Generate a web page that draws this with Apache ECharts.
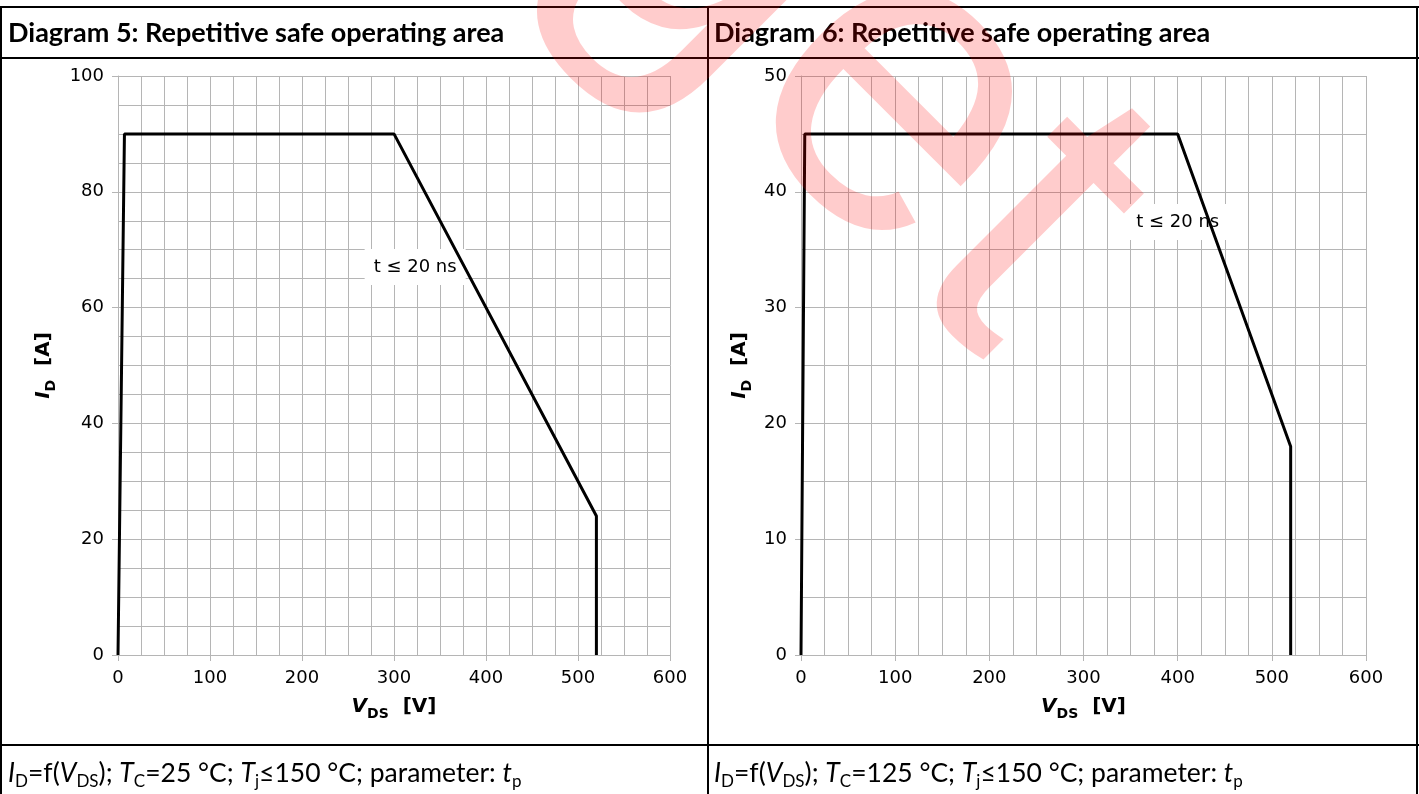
<!DOCTYPE html>
<html>
<head>
<meta charset="utf-8">
<script src="https://cdn.jsdelivr.net/npm/echarts@6/dist/echarts.min.js"></script>
<style>
  html, body { margin: 0; padding: 0; background: #fff; }
  #chart { width: 1419px; height: 794px; }
</style>
</head>
<body>
<div id="chart"></div>
<script>
// diagram 5 (Tc = 25 °C) and diagram 6 (Tc = 125 °C)
const vdsLeft = [0, 7, 300, 520, 520]
const idLeft = [0, 90, 90, 24, 0]
const vdsRight = [0, 4, 400, 520, 520]
const idRight = [0, 45, 45, 18, 0]

const xRange = [0, 600]
const yRangeLeft = [0, 100]
const yRangeRight = [0, 50]

const noteText = 't ≤ 20 ns'
const noteLeft = [323, 67]
const noteRight = [400, 37.4]

const titles = ['Diagram 5: Repetitive safe operating area', 'Diagram 6: Repetitive safe operating area']
const footers = [
    '{i|I}{s|D}{n|=f(}{i|V}{s|DS}{n|); }{i|T}{s|C}{n|=25 °C; }{i|T}{s|j}{n|≤150 °C; parameter: }{i|t}{s|p}',
    '{i|I}{s|D}{n|=f(}{i|V}{s|DS}{n|); }{i|T}{s|C}{n|=125 °C; }{i|T}{s|j}{n|≤150 °C; parameter: }{i|t}{s|p}'
]

const gridColor = '#b5b5b5'
const font = 'DejaVu Sans'
const headFont = 'Lato'

const nameRich = {
    i: { fontFamily: font, fontSize: 20, fontWeight: 'bold', fontStyle: 'italic', color: '#000', lineHeight: 28 },
    s: { fontFamily: font, fontSize: 14, fontWeight: 'bold', color: '#000', verticalAlign: 'bottom', lineHeight: 17 },
    b: { fontFamily: font, fontSize: 20, fontWeight: 'bold', color: '#000', lineHeight: 28 }
}

const makeAxis = (idx, range, interval, minorSplit, extra) => Object.assign({
    type: 'value',
    gridIndex: idx,
    min: range[0],
    max: range[1],
    interval: interval,
    axisLine: { show: true, onZero: false, lineStyle: { color: gridColor, width: 1 } },
    axisTick: { show: true, length: 6, lineStyle: { color: gridColor, width: 1 } },
    axisLabel: { color: '#000', fontFamily: font, fontSize: 18, margin: 14 },
    splitLine: { show: true, lineStyle: { color: gridColor, width: 1 } },
    minorTick: { show: false, splitNumber: minorSplit },
    minorSplitLine: { show: true, lineStyle: { color: gridColor, width: 1 } }
}, extra)

const xName = '{i|V}{s|DS}{b|  [V]}'
const yName = '{i|I}{s|D}{b|  [A]}'

const makeSeries = (idx, xs, ys, note) => ({
    type: 'line',
    xAxisIndex: idx,
    yAxisIndex: idx,
    data: xs.map((v, i) => [v, ys[i]]),
    symbol: 'none',
    lineStyle: { color: '#000', width: 3 },
    z: 5,
    markPoint: {
        symbol: 'rect',
        symbolSize: 1,
        itemStyle: { color: 'rgba(0,0,0,0)' },
        label: {
            show: true,
            position: 'inside',
            formatter: noteText,
            color: '#000',
            fontFamily: font,
            fontSize: 18,
            backgroundColor: '#fff',
            padding: [9, 9]
        },
        data: [{ coord: note }]
    }
})

const line = (x1, y1, x2, y2) => ({
    type: 'line',
    shape: { x1: x1, y1: y1, x2: x2, y2: y2 },
    style: { stroke: '#000', lineWidth: 2 },
    z: 50
})

const footRich = {
    n: { fontFamily: headFont, fontSize: 26.5, color: '#000', lineHeight: 34 },
    i: { fontFamily: headFont, fontSize: 26.5, fontStyle: 'italic', color: '#000', lineHeight: 34 },
    s: { fontFamily: headFont, fontSize: 17, color: '#000', verticalAlign: 'bottom', lineHeight: 19 }
}

const chart = echarts.init(document.getElementById('chart'), null, { renderer: 'canvas' })

const option = {
    animation: false,
    grid: [
        { left: 118, top: 76, width: 552, height: 579 },
        { left: 801, top: 76, width: 565, height: 579 }
    ],
    xAxis: [
        makeAxis(0, xRange, 100, 4, { name: xName, nameLocation: 'middle', nameGap: 38, nameTextStyle: { rich: nameRich } }),
        makeAxis(1, xRange, 100, 4, { name: xName, nameLocation: 'middle', nameGap: 38, nameTextStyle: { rich: nameRich } })
    ],
    yAxis: [
        makeAxis(0, yRangeLeft, 20, 4, { name: yName, nameLocation: 'middle', nameGap: 60, nameTextStyle: { rich: nameRich } }),
        makeAxis(1, yRangeRight, 10, 2, { name: yName, nameLocation: 'middle', nameGap: 47, nameTextStyle: { rich: nameRich } })
    ],
    series: [
        makeSeries(0, vdsLeft, idLeft, noteLeft),
        makeSeries(1, vdsRight, idRight, noteRight)
    ],
    graphic: [
        // watermark
        {
            type: 'text',
            x: 50,
            y: -432,
            rotation: -Math.PI / 4,
            z: 100,
            silent: true,
            style: {
                text: 'Target',
                font: '440px "Liberation Sans"',
                fill: 'rgba(255,0,0,0.2)',
                textVerticalAlign: 'bottom'
            }
        },
        line(0, 7, 1419, 7),
        line(0, 58, 1419, 58),
        line(0, 745, 1419, 745),
        line(1, 7, 1, 794),
        line(708, 7, 708, 794),
        line(1417, 7, 1417, 794),
        {
            type: 'text', x: 8, y: 33, z: 50,
            style: { text: titles[0], font: 'bold 27px Lato', fill: '#000', textVerticalAlign: 'middle' }
        },
        {
            type: 'text', x: 714, y: 33, z: 50,
            style: { text: titles[1], font: 'bold 27px Lato', fill: '#000', textVerticalAlign: 'middle' }
        },
        {
            type: 'text', x: 8, y: 773, z: 50,
            style: { text: footers[0], rich: footRich, textVerticalAlign: 'middle' }
        },
        {
            type: 'text', x: 714, y: 773, z: 50,
            style: { text: footers[1], rich: footRich, textVerticalAlign: 'middle' }
        }
    ]
}

chart.setOption(option)
</script>
</body>
</html>
